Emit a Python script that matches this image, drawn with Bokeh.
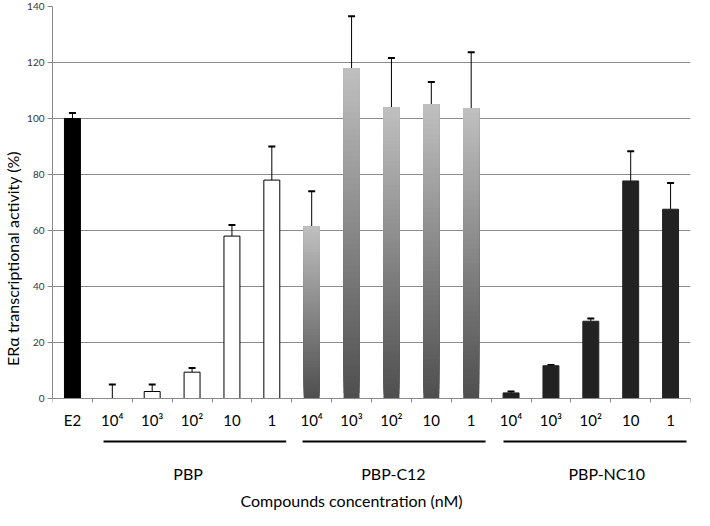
from bokeh.plotting import figure
from bokeh.models import Range1d, FixedTicker, ColumnDataSource, Whisker, TeeHead
from bokeh.core.properties import value
from bokeh.embed import file_html
from bokeh.resources import INLINE

# ---- data ----
control_label = ["E2"]
control_values = [100.0]
control_errors = [2.0]

concentration_labels = ["10⁴", "10³", "10²", "10", "1"]
group_names = ["PBP", "PBP-C12", "PBP-NC10"]

pbp_values = [0.0, 2.5, 9.4, 58.0, 78.0]
pbp_errors = [5.0, 2.5, 1.5, 4.0, 12.0]

c12_values = [61.5, 118.0, 104.0, 105.0, 103.7]
c12_errors = [12.5, 18.5, 17.6, 8.0, 20.0]

nc10_values = [2.0, 11.7, 27.6, 77.7, 67.6]
nc10_errors = [0.5, 0.3, 1.0, 10.6, 9.4]

y_ticks = [0, 20, 40, 60, 80, 100, 120, 140]

FONT = "Lato"
BAR_W = 0.4
n_cat = 1 + 3 * len(concentration_labels)
Y_MIN = -40.0  # room below the axis for group lines and titles

p = figure(width=694, height=510, output_backend="svg", toolbar_location=None,
           x_range=Range1d(0, n_cat), y_range=Range1d(Y_MIN, 140),
           min_border_left=45, min_border_right=4, min_border_top=6, min_border_bottom=0)
p.outline_line_color = None
p.background_fill_color = "white"
p.border_fill_color = "white"

# grid
p.xgrid.grid_line_color = None
p.ygrid.grid_line_color = "#8a8a8a"
p.ygrid.grid_line_width = 1
p.ygrid.ticker = FixedTicker(ticks=y_ticks)

# y axis
p.yaxis.ticker = FixedTicker(ticks=y_ticks)
p.yaxis.bounds = (0, 140)
p.yaxis.axis_line_color = "#8a8a8a"
p.yaxis.major_tick_line_color = "#8a8a8a"
p.yaxis.major_tick_out = 5
p.yaxis.major_tick_in = 0
p.yaxis.minor_tick_line_color = None
p.yaxis.major_label_text_font = FONT
p.yaxis.major_label_text_font_size = "10px"
p.yaxis.major_label_text_color = "#333333"
p.yaxis.major_label_standoff = 3
p.yaxis.axis_label = "ERα transcriptional activity (%)"
p.yaxis.axis_label_text_font = FONT
p.yaxis.axis_label_text_font_size = "16px"
p.yaxis.axis_label_text_font_style = "normal"
p.yaxis.axis_label_text_color = "black"
p.yaxis.axis_label_standoff = 2

# x axis at y = 0: labels at category centers, ticks at boundaries
all_labels = control_label + concentration_labels * 3
centers = [i + 0.5 for i in range(n_cat)]
p.xaxis.fixed_location = 0
p.xaxis.ticker = FixedTicker(ticks=centers, minor_ticks=list(range(n_cat + 1)))
p.xaxis.major_label_overrides = {c: lab for c, lab in zip(centers, all_labels)}
p.xaxis.axis_line_color = "#8a8a8a"
p.xaxis.major_tick_line_color = None
p.xaxis.minor_tick_line_color = "#8a8a8a"
p.xaxis.minor_tick_out = 4
p.xaxis.minor_tick_in = 0
p.xaxis.major_label_text_font = FONT
p.xaxis.major_label_text_font_size = "15px"
p.xaxis.major_label_text_color = "black"
p.xaxis.major_label_standoff = 6

# bars
p.vbar(x=centers[0:1], top=control_values, width=BAR_W, fill_color="black", line_color="black")
pbp_x = centers[1:6]
c12_x = centers[6:11]
nc10_x = centers[11:16]
p.vbar(x=pbp_x, top=pbp_values, width=BAR_W, fill_color="white", line_color="black", line_width=1)
p.vbar(x=nc10_x, top=nc10_values, width=BAR_W, fill_color="#222222", line_color="#222222")

# gradient bars for PBP-C12 (dark bottom -> light top); overlapping slices avoid seams
N = 60
gl, gr, gb, gt, gc = [], [], [], [], []
dark, light = 78, 192
for x, v in zip(c12_x, c12_values):
    for k in range(N):
        gl.append(x - BAR_W / 2)
        gr.append(x + BAR_W / 2)
        gb.append(v * k / N)
        gt.append(v)
        g = int(round(dark + (light - dark) * (k + 0.5) / N))
        gc.append("#%02x%02x%02x" % (g, g, g))
p.quad(left=gl, right=gr, bottom=gb, top=gt, fill_color=gc, line_color=None)

# error bars (upper only)
ex = centers[0:1] + pbp_x + c12_x + nc10_x
ev = control_values + pbp_values + c12_values + nc10_values
ee = control_errors + pbp_errors + c12_errors + nc10_errors
err_src = ColumnDataSource(dict(x=ex, lower=ev, upper=[v + e for v, e in zip(ev, ee)]))
w = Whisker(source=err_src, base="x", lower="lower", upper="upper", dimension="height",
            line_color="black", line_width=1,
            upper_head=TeeHead(size=7, line_color="black", line_width=2), lower_head=None)
p.add_layout(w)

# group underlines and labels
group_x0 = [1.28, 6.27, 11.31]
group_x1 = [5.86, 10.86, 15.9]
group_label_x = [3.4, 8.55, 13.9]
LINE_Y = -15.4
GROUP_Y = -26.8
TITLE_Y = -36.4
p.segment(x0=group_x0, x1=group_x1, y0=[LINE_Y] * 3, y1=[LINE_Y] * 3,
          line_color="black", line_width=2)
p.text(x=group_label_x, y=[GROUP_Y] * 3, text=group_names, text_align="center",
       text_baseline="middle", text_font=value(FONT), text_font_size="16px",
       text_color="black")
p.text(x=[7.5], y=[TITLE_Y], text=["Compounds concentration (nM)"], text_align="center",
       text_baseline="middle", text_font=value(FONT), text_font_size="16px",
       text_color="black")

open("out.html", "w").write(file_html(p, INLINE))
